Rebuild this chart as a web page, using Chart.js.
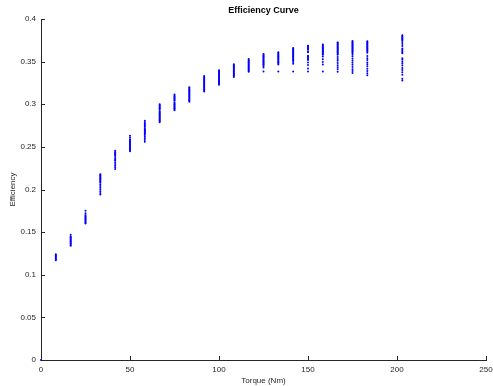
<!DOCTYPE html>
<html lang="en">
<head>
    <meta charset="UTF-8">
    <title>Efficiency Curve</title>
    <script src="https://cdn.jsdelivr.net/npm/chart.js"></script>
    <style>
        html, body {
            margin: 0;
            padding: 0;
            background: #ffffff;
        }
        #grafico {
            display: block;
        }
    </style>
</head>
<body>
    <canvas id="grafico" width="493" height="386"></canvas>

    <script>
        // torque columns (Nm)
        const torque = [0, 8.33, 16.67, 25, 33.33, 41.67, 50, 58.33, 66.67, 75, 83.33, 91.67,
            100, 108.33, 116.67, 125, 133.33, 141.67, 150, 158.33, 166.67, 175, 183.33, 203];

        // efficiency readings for each torque column
        const efficiency = [
            [0],
            [0.117, 0.118, 0.119, 0.120, 0.121, 0.122, 0.123, 0.124],
            [0.134, 0.135, 0.136, 0.137, 0.138, 0.139, 0.140, 0.141, 0.142, 0.143, 0.144, 0.145, 0.147],
            [0.160, 0.161, 0.162, 0.163, 0.164, 0.165, 0.166, 0.167, 0.168, 0.169, 0.170, 0.172, 0.175],
            [0.194, 0.196, 0.198, 0.200, 0.202, 0.204, 0.206, 0.208, 0.209, 0.210, 0.211, 0.212, 0.213, 0.214, 0.215, 0.216, 0.217, 0.218],
            [0.224, 0.226, 0.228, 0.230, 0.232, 0.234, 0.235, 0.236, 0.238, 0.240, 0.241, 0.242, 0.243, 0.244, 0.2455],
            [0.245, 0.246, 0.247, 0.248, 0.249, 0.250, 0.251, 0.252, 0.253, 0.254, 0.255, 0.256, 0.257, 0.258, 0.259, 0.261, 0.263],
            [0.256, 0.258, 0.260, 0.262, 0.264, 0.265, 0.266, 0.267, 0.268, 0.269, 0.270, 0.271, 0.272, 0.274, 0.275, 0.276, 0.277, 0.279, 0.2805],
            [0.279, 0.280, 0.281, 0.282, 0.283, 0.284, 0.285, 0.286, 0.287, 0.288, 0.289, 0.290, 0.291, 0.292, 0.294, 0.295, 0.296, 0.297, 0.298, 0.299, 0.300],
            [0.293, 0.294, 0.295, 0.296, 0.297, 0.298, 0.299, 0.300, 0.301, 0.302, 0.304, 0.305, 0.306, 0.307, 0.308, 0.309, 0.310, 0.3115],
            [0.303, 0.304, 0.305, 0.306, 0.307, 0.308, 0.309, 0.310, 0.311, 0.312, 0.313, 0.314, 0.315, 0.316, 0.317, 0.318, 0.319, 0.320],
            [0.315, 0.316, 0.317, 0.318, 0.319, 0.320, 0.321, 0.322, 0.323, 0.324, 0.325, 0.326, 0.327, 0.328, 0.329, 0.330, 0.331, 0.332, 0.333],
            [0.323, 0.324, 0.325, 0.326, 0.327, 0.328, 0.329, 0.330, 0.331, 0.332, 0.333, 0.334, 0.335, 0.336, 0.337, 0.338, 0.339, 0.340],
            [0.332, 0.333, 0.334, 0.335, 0.336, 0.337, 0.338, 0.339, 0.340, 0.341, 0.342, 0.343, 0.344, 0.345, 0.346, 0.347],
            [0.338, 0.339, 0.340, 0.341, 0.342, 0.343, 0.344, 0.345, 0.346, 0.347, 0.348, 0.349, 0.350, 0.351, 0.352, 0.353],
            [0.3385, 0.343, 0.345, 0.346, 0.347, 0.348, 0.349, 0.350, 0.351, 0.352, 0.353, 0.354, 0.355, 0.356, 0.357, 0.358, 0.359],
            [0.3385, 0.3465, 0.348, 0.349, 0.350, 0.351, 0.352, 0.353, 0.354, 0.355, 0.356, 0.357, 0.358, 0.359, 0.360, 0.361],
            [0.3385, 0.3475, 0.3495, 0.351, 0.352, 0.353, 0.354, 0.355, 0.356, 0.357, 0.358, 0.359, 0.360, 0.361, 0.362, 0.363, 0.364, 0.365, 0.366],
            [0.3385, 0.342, 0.346, 0.349, 0.352, 0.353, 0.354, 0.355, 0.356, 0.357, 0.361, 0.362, 0.364, 0.365, 0.366, 0.367, 0.368, 0.3685],
            [0.3385, 0.3465, 0.3495, 0.3527, 0.356, 0.358, 0.359, 0.360, 0.361, 0.362, 0.363, 0.364, 0.365, 0.366, 0.367, 0.368, 0.369, 0.370],
            [0.3382, 0.341, 0.3433, 0.3457, 0.3484, 0.351, 0.353, 0.3554, 0.358, 0.359, 0.360, 0.361, 0.362, 0.363, 0.364, 0.365, 0.366, 0.367, 0.368, 0.369, 0.370, 0.371, 0.372, 0.3725],
            [0.3367, 0.339, 0.341, 0.3437, 0.3464, 0.3487, 0.351, 0.3534, 0.356, 0.358, 0.3597, 0.361, 0.362, 0.363, 0.364, 0.365, 0.366, 0.367, 0.368, 0.369, 0.370, 0.371, 0.372, 0.373, 0.3742],
            [0.334, 0.3363, 0.339, 0.3417, 0.3445, 0.347, 0.349, 0.352, 0.354, 0.3566, 0.3605, 0.362, 0.363, 0.364, 0.365, 0.366, 0.367, 0.368, 0.369, 0.370, 0.371, 0.372, 0.373, 0.374],
            [0.328, 0.330, 0.3347, 0.3375, 0.3402, 0.3425, 0.3454, 0.3477, 0.350, 0.3522, 0.354, 0.3597, 0.361, 0.3625, 0.364, 0.3655, 0.3683, 0.3707, 0.373, 0.375, 0.376, 0.377, 0.378, 0.379, 0.380, 0.3808]
        ];

        const xTicks = [0, 50, 100, 150, 200, 250];
        const yTicks = [0, 0.05, 0.1, 0.15, 0.2, 0.25, 0.3, 0.35, 0.4];

        const pontos = [];
        torque.forEach((t, i) => {
            efficiency[i].forEach(e => pontos.push({ x: t, y: e }));
        });

        const fonte = "'Liberation Sans', Arial, Helvetica, sans-serif";
        const cinza = '#262626';

        // MATLAB style: short tick marks pointing into the plot
        const ticksParaDentro = {
            id: 'ticksParaDentro',
            beforeDatasetsDraw(chart) {
                const { ctx, chartArea, scales } = chart;
                ctx.save();
                ctx.strokeStyle = cinza;
                ctx.lineWidth = 1;
                ctx.beginPath();
                xTicks.forEach(v => {
                    const px = Math.round(scales.x.getPixelForValue(v)) + 0.5;
                    ctx.moveTo(px, chartArea.bottom);
                    ctx.lineTo(px, chartArea.bottom - 4);
                });
                yTicks.forEach(v => {
                    const py = Math.round(scales.y.getPixelForValue(v)) + 0.5;
                    ctx.moveTo(chartArea.left, py);
                    ctx.lineTo(chartArea.left + 4, py);
                });
                ctx.stroke();
                ctx.restore();
            }
        };

        new Chart(document.getElementById('grafico'), {
            type: 'scatter',
            data: {
                datasets: [{
                    label: 'Efficiency',
                    data: pontos,
                    backgroundColor: '#0000ff',
                    borderWidth: 0,
                    pointRadius: 1,
                    pointHoverRadius: 1,
                    clip: false
                }]
            },
            options: {
                responsive: false,
                animation: false,
                layout: { padding: { top: 0, right: 7, left: 0, bottom: 0 } },
                plugins: {
                    legend: { display: false },
                    tooltip: { enabled: false },
                    title: {
                        display: true,
                        text: 'Efficiency Curve',
                        fullSize: false,
                        color: '#000000',
                        font: { family: fonte, size: 9, weight: 'bold' },
                        padding: { top: 5, bottom: 3.2 }
                    }
                },
                scales: {
                    x: {
                        type: 'linear',
                        min: 0,
                        max: 250,
                        afterFit(scale) {
                            scale.height = 26;
                            scale.paddingLeft = 0;
                            scale.paddingRight = 0;
                        },
                        afterBuildTicks(scale) { scale.ticks = xTicks.map(v => ({ value: v })); },
                        grid: { display: true, drawOnChartArea: false, drawTicks: false },
                        border: { display: true, color: cinza, width: 1 },
                        ticks: {
                            color: cinza,
                            padding: 5,
                            maxRotation: 0,
                            font: { family: fonte, size: 8 }
                        },
                        title: {
                            display: true,
                            text: 'Torque (Nm)',
                            color: cinza,
                            font: { family: fonte, size: 8 },
                            padding: { top: 1, bottom: 0 }
                        }
                    },
                    y: {
                        type: 'linear',
                        min: 0,
                        max: 0.4,
                        afterFit(scale) {
                            scale.width = 41;
                            scale.paddingTop = 0;
                            scale.paddingBottom = 0;
                        },
                        afterBuildTicks(scale) { scale.ticks = yTicks.map(v => ({ value: v })); },
                        grid: { display: true, drawOnChartArea: false, drawTicks: false },
                        border: { display: true, color: cinza, width: 1 },
                        ticks: {
                            color: cinza,
                            padding: 5,
                            font: { family: fonte, size: 8 },
                            callback: v => String(+v.toFixed(2))
                        },
                        title: {
                            display: true,
                            text: 'Efficiency',
                            color: cinza,
                            font: { family: fonte, size: 8 },
                            padding: { top: 8, bottom: 0 }
                        }
                    }
                }
            },
            plugins: [ticksParaDentro]
        });
    </script>
</body>
</html>
